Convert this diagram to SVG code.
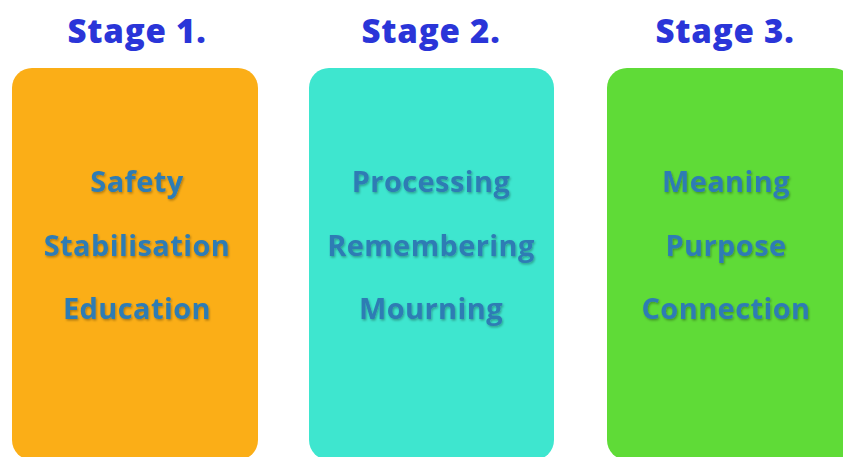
<svg xmlns="http://www.w3.org/2000/svg" width="843" height="457" viewBox="0 0 843 457">
  <style>
    .title { font-family: "Open Sans", Lato, sans-serif; font-weight: 800; font-size: 33px; fill: #2a35d8; text-anchor: middle; letter-spacing: 0.8px; }
    .item { font-family: "Open Sans", Lato, sans-serif; font-weight: 700; font-size: 29px; fill: #2f7cb4; text-anchor: middle; letter-spacing: 0.4px; filter: url(#shadow); }
  </style>
  <defs>
    <filter id="shadow" x="-20%" y="-30%" width="140%" height="160%">
      <feDropShadow dx="1" dy="1.5" stdDeviation="1.2" flood-color="#000" flood-opacity="0.3"/>
    </filter>
  </defs>
  <rect width="843" height="457" fill="#ffffff"/>

  <g id="stage1">
    <text class="title" x="137" y="43">Stage 1.</text>
    <rect x="12" y="68" width="246" height="392" rx="20" fill="#fbae17"/>
    <text class="item" x="137" y="192">Safety</text>
    <text class="item" x="137" y="256">Stabilisation</text>
    <text class="item" x="137" y="319">Education</text>
  </g>

  <g id="stage2">
    <text class="title" x="431" y="43">Stage 2.</text>
    <rect x="309" y="68" width="245" height="392" rx="20" fill="#3ee6cf"/>
    <text class="item" x="431" y="192">Processing</text>
    <text class="item" x="431" y="256">Remembering</text>
    <text class="item" x="431" y="319">Mourning</text>
  </g>

  <g id="stage3">
    <text class="title" x="725" y="43">Stage 3.</text>
    <rect x="607" y="68" width="246" height="392" rx="20" fill="#5fdb37"/>
    <text class="item" x="726" y="192">Meaning</text>
    <text class="item" x="726" y="256">Purpose</text>
    <text class="item" x="726" y="319">Connection</text>
  </g>

  <g id="connectors"></g>
</svg>
